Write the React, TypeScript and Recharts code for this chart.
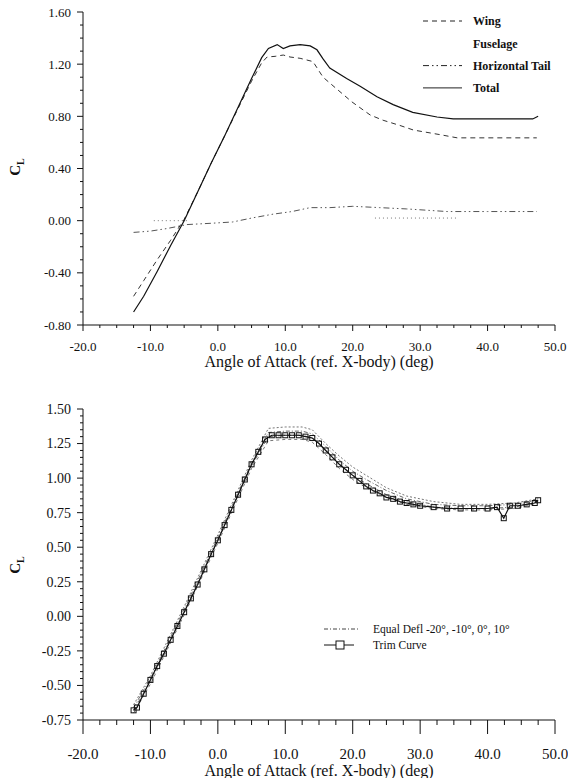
import { LineChart, Line, XAxis, YAxis, Legend } from "recharts"

const FONT = '"Liberation Serif", "Times New Roman", serif'

// ---- upper chart: lift build-up per component ----
const totalAlpha = [-12.5, -11, -9, -7, -5, -3, -1, 1, 3, 5, 6.5, 7.5, 8.8, 9.7, 10.7, 12.2, 13.7, 14.7, 15.6, 16.6, 19.1, 21.1, 23.6, 26, 28.9, 32.5, 34.9, 40, 46.7, 47.5]
const totalCL = [-0.7, -0.58, -0.39, -0.19, 0.0, 0.22, 0.44, 0.65, 0.87, 1.09, 1.25, 1.32, 1.35, 1.32, 1.34, 1.35, 1.34, 1.31, 1.24, 1.17, 1.09, 1.03, 0.95, 0.89, 0.83, 0.795, 0.78, 0.78, 0.78, 0.8]

const wingAlpha = [-12.5, -11, -9, -7, -5, -3, -1, 1, 3, 5, 6.5, 7.3, 8.5, 9.7, 10.7, 12.2, 14.1, 15.6, 17.4, 19.9, 22.6, 24.5, 27, 29, 32.9, 35.5, 40, 47.3]
const wingCL = [-0.58, -0.46, -0.3, -0.15, 0.01, 0.22, 0.44, 0.65, 0.86, 1.07, 1.21, 1.255, 1.26, 1.27, 1.255, 1.245, 1.22, 1.1, 1.02, 0.91, 0.81, 0.77, 0.73, 0.695, 0.66, 0.635, 0.635, 0.635]

const tailAlpha = [-12.5, -10, -7.5, -4.6, -1, 2.2, 5, 8.2, 11, 13.7, 16.6, 20, 24, 28, 34, 40, 47.3]
const tailCL = [-0.09, -0.08, -0.06, -0.03, -0.02, -0.01, 0.02, 0.05, 0.07, 0.1, 0.1, 0.11, 0.1, 0.09, 0.07, 0.07, 0.07]

const fuseAlpha = [-9.5, -7, -4.5, 10, 23.3, 27, 31, 35.5]
const fuseCL = [0.0, 0.0, 0.0, null, 0.02, 0.02, 0.02, 0.02]

const topYTicks = [-0.8, -0.4, 0, 0.4, 0.8, 1.2, 1.6]

// ---- lower chart: trim curve vs equal deflections ----
const trimAlpha = [-12.5, -12, -11, -10, -9, -8, -7, -6, -5, -4, -3, -2, -1, 0, 1, 2, 3, 4, 5, 6, 7, 8, 9, 10, 11, 12, 13, 14, 15, 16, 17, 18, 19, 20, 21, 22, 23, 24, 25, 26, 27, 28, 29, 30, 32, 34, 36, 38, 40, 41.4, 42.4, 43.3, 44.5, 45.8, 47, 47.5]
const trimCL = [-0.68, -0.66, -0.56, -0.46, -0.36, -0.27, -0.17, -0.07, 0.03, 0.13, 0.23, 0.34, 0.45, 0.55, 0.66, 0.77, 0.88, 0.99, 1.1, 1.19, 1.28, 1.31, 1.31, 1.31, 1.31, 1.31, 1.3, 1.29, 1.25, 1.2, 1.15, 1.1, 1.06, 1.02, 0.98, 0.94, 0.91, 0.89, 0.86, 0.85, 0.83, 0.82, 0.81, 0.8, 0.79, 0.78, 0.78, 0.78, 0.78, 0.79, 0.71, 0.8, 0.8, 0.81, 0.82, 0.84]

const deflAlpha = [-12.5, -10, -5, 0, 5, 7.5, 10, 12.5, 14, 16, 18, 20, 22, 25, 28, 32, 36, 40, 44, 47.5]
const deflM20 = [-0.64, -0.43, 0.07, 0.59, 1.13, 1.36, 1.37, 1.37, 1.35, 1.25, 1.16, 1.08, 1.02, 0.93, 0.87, 0.83, 0.81, 0.81, 0.82, 0.85]
const deflM10 = [-0.66, -0.45, 0.05, 0.57, 1.11, 1.33, 1.34, 1.34, 1.32, 1.23, 1.13, 1.05, 0.99, 0.91, 0.85, 0.81, 0.8, 0.8, 0.81, 0.84]
const deflZero = [-0.68, -0.47, 0.03, 0.55, 1.09, 1.3, 1.31, 1.31, 1.29, 1.2, 1.1, 1.02, 0.96, 0.88, 0.83, 0.79, 0.78, 0.78, 0.79, 0.83]
const deflP10 = [-0.7, -0.49, 0.01, 0.53, 1.07, 1.27, 1.28, 1.28, 1.26, 1.17, 1.07, 0.99, 0.93, 0.86, 0.81, 0.78, 0.77, 0.77, 0.78, 0.82]

const bottomYTicks = [-0.75, -0.5, -0.25, 0, 0.25, 0.5, 0.75, 1.0, 1.25, 1.5]
const xMajorTicks = [-20, -10, 0, 10, 20, 30, 40, 50]

const pairs = (xs: number[], ys: (number | null)[]) => xs.map((x, i) => ({ x, y: ys[i] }))

const range = (start: number, end: number, step: number) => {
  const out: number[] = []
  const n = Math.round((end - start) / step)
  for (let i = 0; i <= n; i++) out.push(+(start + i * step).toFixed(4))
  return out
}

const onStep = (v: number, step: number) => Math.abs(v / step - Math.round(v / step)) < 1e-6

const xTick = (major: number, minor: number, labelDy: number, fontSize: number) => (props: any) => {
  const { x, y, payload } = props
  const v = payload.value
  const isMajor = xMajorTicks.some((t) => Math.abs(t - v) < 1e-6)
  return (
    <g>
      <line x1={x} x2={x} y1={y} y2={y + (isMajor ? major : minor)} stroke="#111" />
      {isMajor && (
        <text x={x} y={y + labelDy} textAnchor="middle" fontSize={fontSize} fontFamily={FONT} fill="#111">
          {v.toFixed(1)}
        </text>
      )}
    </g>
  )
}

const yTick = (majors: number[], fontSize: number) => (props: any) => {
  const { x, y, payload } = props
  const v = payload.value
  const isMajor = majors.some((t) => Math.abs(t - v) < 1e-6)
  return (
    <g>
      <line x1={x} x2={x - (isMajor ? 6 : 3)} y1={y} y2={y} stroke="#111" />
      {isMajor && (
        <text x={x - 12} y={y} dy="0.35em" textAnchor="end" fontSize={fontSize} fontFamily={FONT} fill="#111">
          {(Math.abs(v) < 1e-9 ? 0 : v).toFixed(2)}
        </text>
      )}
    </g>
  )
}

const CLLabel = ({ x, y }: { x: number; y: number }) => (
  <text transform={`rotate(-90, ${x}, ${y})`} x={x} y={y} textAnchor="middle" fontSize={15} fontWeight="bold" fontFamily={FONT} fill="#111">
    C<tspan fontSize={10} dy={4}>L</tspan>
  </text>
)

const TopLegend = () => {
  const rows = [
    { name: "Wing", dash: "5 4", show: true },
    { name: "Fuselage", dash: "1 3", show: false },
    { name: "Horizontal Tail", dash: "6 3 1.5 3 1.5 3", show: true },
    { name: "Total", dash: undefined, show: true },
  ]
  return (
    <svg width={153} height={90}>
      {rows.map((r, i) => (
        <g key={r.name}>
          {r.show && <line x1={8} x2={47} y1={11 + i * 22.3} y2={11 + i * 22.3} stroke="#222" strokeDasharray={r.dash} />}
          <text x={58} y={11 + i * 22.3} dy="0.35em" fontSize={12} fontWeight="bold" fontFamily={FONT} fill="#111">
            {r.name}
          </text>
        </g>
      ))}
    </svg>
  )
}

const BottomLegend = () => (
  <svg width={240} height={36}>
    <line x1={6} x2={42} y1={9} y2={9} stroke="#444" strokeDasharray="4 2 1 2" />
    <text x={55} y={9} dy="0.35em" fontSize={11.5} fontFamily={FONT} fill="#111">
      Equal Defl -20°, -10°, 0°, 10°
    </text>
    <line x1={6} x2={36} y1={25} y2={25} stroke="#111" />
    <rect x={18} y={21} width={8} height={8} fill="#fff" stroke="#111" />
    <text x={55} y={25} dy="0.35em" fontSize={11.5} fontFamily={FONT} fill="#111">
      Trim Curve
    </text>
  </svg>
)

const squareDot = (props: any) => {
  const { cx, cy, index } = props
  if (cx == null || cy == null) return <g key={index} />
  return <rect key={index} x={cx - 2.5} y={cy - 2.5} width={5} height={5} fill="none" stroke="#111" strokeWidth={1} />
}

const xTitle = (y: number) => () => (
  <text x={319} y={y} textAnchor="middle" fontSize={16} fontFamily={FONT} fill="#111">
    Angle of Attack (ref. X-body) (deg)
  </text>
)

export default function App() {
  const xTicks = range(-20, 50, 2.5)
  return (
    <div style={{ position: "absolute", left: 0, top: 0, width: 568, height: 778, background: "#fff" }}>
      <div style={{ position: "absolute", left: 0, top: 0 }}>
        <LineChart width={568} height={380} margin={{ top: 12, right: 13, bottom: 15, left: 0 }}>
          <XAxis
            type="number"
            dataKey="x"
            domain={[-20, 50]}
            ticks={xTicks}
            interval={0}
            allowDataOverflow
            height={40}
            tickSize={0}
            tickMargin={0}
            tickLine={false}
            axisLine={{ stroke: "#111" }}
            tick={xTick(6, 3, 26, 13)}
            label={{ content: xTitle(367) }}
          />
          <YAxis
            type="number"
            domain={[-0.8, 1.6]}
            ticks={range(-0.8, 1.6, 0.1)}
            interval={0}
            allowDataOverflow
            width={83}
            tickSize={0}
            tickMargin={0}
            tickLine={false}
            axisLine={{ stroke: "#111" }}
            tick={yTick(topYTicks, 13)}
            label={{ content: () => <CLLabel x={20} y={167} /> }}
          />
          <Line data={pairs(fuseAlpha, fuseCL)} dataKey="y" type="linear" stroke="#777" strokeWidth={1} strokeDasharray="1 3" dot={false} isAnimationActive={false} />
          <Line data={pairs(tailAlpha, tailCL)} dataKey="y" type="linear" stroke="#555" strokeWidth={1} strokeDasharray="6 3 1.5 3 1.5 3" dot={false} isAnimationActive={false} />
          <Line data={pairs(wingAlpha, wingCL)} dataKey="y" type="linear" stroke="#333" strokeWidth={1} strokeDasharray="5 4" dot={false} isAnimationActive={false} />
          <Line data={pairs(totalAlpha, totalCL)} dataKey="y" type="linear" stroke="#111" strokeWidth={1.2} dot={false} isAnimationActive={false} />
          <Legend layout="vertical" align="center" verticalAlign="middle" wrapperStyle={{ top: 10, left: 415, width: 153, height: 90 }} content={() => <TopLegend />} />
        </LineChart>
      </div>

      <div style={{ position: "absolute", left: 0, top: 390 }}>
        <LineChart width={568} height={388} margin={{ top: 19, right: 13, bottom: 13, left: 0 }}>
          <XAxis
            type="number"
            dataKey="x"
            domain={[-20, 50]}
            ticks={xTicks}
            interval={0}
            allowDataOverflow
            height={45}
            tickSize={0}
            tickMargin={0}
            tickLine={false}
            axisLine={{ stroke: "#111" }}
            tick={xTick(14, 5, 39, 15)}
            label={{ content: xTitle(386) }}
          />
          <YAxis
            type="number"
            domain={[-0.75, 1.5]}
            ticks={range(-0.75, 1.5, 0.05)}
            interval={0}
            allowDataOverflow
            width={83}
            tickSize={0}
            tickMargin={0}
            tickLine={false}
            axisLine={{ stroke: "#111" }}
            tick={yTick(bottomYTicks, 14)}
            label={{ content: () => <CLLabel x={20} y={175} /> }}
          />
          <Line data={pairs(deflAlpha, deflM20)} dataKey="y" type="linear" stroke="#666" strokeWidth={0.9} strokeDasharray="2 2" dot={false} isAnimationActive={false} />
          <Line data={pairs(deflAlpha, deflM10)} dataKey="y" type="linear" stroke="#555" strokeWidth={0.9} strokeDasharray="4 2 1 2" dot={false} isAnimationActive={false} />
          <Line data={pairs(deflAlpha, deflZero)} dataKey="y" type="linear" stroke="#555" strokeWidth={0.9} strokeDasharray="4 2 1 2" dot={false} isAnimationActive={false} />
          <Line data={pairs(deflAlpha, deflP10)} dataKey="y" type="linear" stroke="#666" strokeWidth={0.9} strokeDasharray="3 3" dot={false} isAnimationActive={false} />
          <Line data={pairs(trimAlpha, trimCL)} dataKey="y" type="linear" stroke="#111" strokeWidth={1.2} dot={squareDot} isAnimationActive={false} />
          <Legend layout="vertical" align="center" verticalAlign="middle" wrapperStyle={{ top: 230, left: 318, width: 240, height: 36 }} content={() => <BottomLegend />} />
        </LineChart>
      </div>
    </div>
  )
}
